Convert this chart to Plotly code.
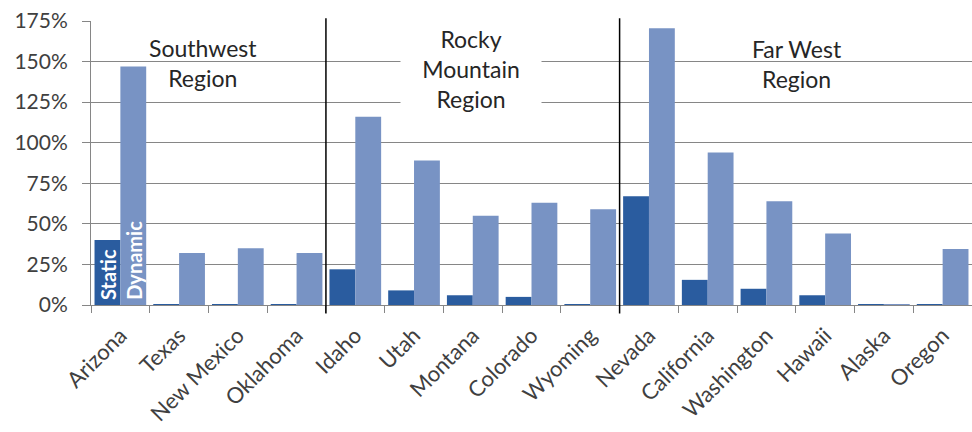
import plotly.graph_objects as go

states = ["Arizona", "Texas", "New Mexico", "Oklahoma", "Idaho", "Utah", "Montana",
          "Colorado", "Wyoming", "Nevada", "California", "Washington", "Hawaii",
          "Alaska", "Oregon"]
static_vals = [40, 0.6, 0.6, 0.6, 22, 9, 6, 5, 0.6, 67, 15.5, 10, 6, 0.6, 0.6]
dynamic_vals = [147, 32, 35, 32, 116, 89, 55, 63, 59, 170.5, 94, 64, 44, 0.6, 34.5]
series_names = ["Static", "Dynamic"]
y_ticks = [0, 25, 50, 75, 100, 125, 150, 175]
regions = ["Southwest<br>Region", "Rocky<br>Mountain<br>Region", "Far West<br>Region"]
region_pos = [1.4, 5.97, 11.52]
region_y = [149, 145.5, 148.5]
dividers = [3.5, 8.5]

FONT = "Lato, Carlito, Calibri, sans-serif"
BARGAP = 0.12

fig = go.Figure()
fig.add_trace(go.Bar(
    x=states, y=static_vals, name=series_names[0], marker_color="#2a5c9f",
    marker_line_width=0,
))
fig.add_trace(go.Bar(
    x=states, y=dynamic_vals, name=series_names[1], marker_color="#7893c4",
    marker_line_width=0,
))

# series labels inside the first category's bars
half = (1 - BARGAP) / 4
for name, off in zip(series_names, [-half, half]):
    fig.add_annotation(
        x=off, y=0, xref="x", yref="y", text=f"<b>{name}</b>", showarrow=False,
        textangle=-90, xanchor="center", yanchor="bottom", yshift=3,
        font=dict(size=20, color="white", family=FONT),
    )

for xv in dividers:
    fig.add_shape(type="line", xref="x", yref="paper", x0=xv, x1=xv,
                  y0=-0.03, y1=1.01, line=dict(color="black", width=1.5))

for i, (txt, xp, yp) in enumerate(zip(regions, region_pos, region_y)):
    kw = {}
    if i == 1:
        kw = dict(bgcolor="white", width=140, height=86, borderpad=0)
    fig.add_annotation(
        x=xp, y=yp, xref="x", yref="y", text=txt, showarrow=False,
        yanchor="middle", font=dict(size=23, color="#262626", family=FONT),
        **kw,
    )

fig.update_layout(
    width=972, height=432,
    margin=dict(l=91, r=0, t=21, b=127),
    paper_bgcolor="white", plot_bgcolor="white",
    barmode="group", bargap=BARGAP, bargroupgap=0,
    showlegend=False,
    font=dict(family=FONT, color="#404040", size=21),
)
fig.update_xaxes(
    tickangle=-45, ticks="outside", tickson="boundaries", ticklen=7,
    tickcolor="#868686", showline=True, linecolor="#868686", linewidth=1,
    tickfont=dict(size=22, color="#404040", family=FONT),
    ticklabelstandoff=8,
    range=[-0.5, 14.5],
)
fig.update_yaxes(
    range=[0, 175], tickvals=y_ticks, ticktext=[f"{v}%" for v in y_ticks],
    showgrid=True, gridcolor="#868686", gridwidth=1,
    showline=True, linecolor="#868686", linewidth=1,
    ticks="outside", ticklen=8, tickcolor="#868686", ticklabelstandoff=10,
    tickfont=dict(size=21, color="#404040", family=FONT),
    zeroline=False,
)

fig.write_html("out.html")
